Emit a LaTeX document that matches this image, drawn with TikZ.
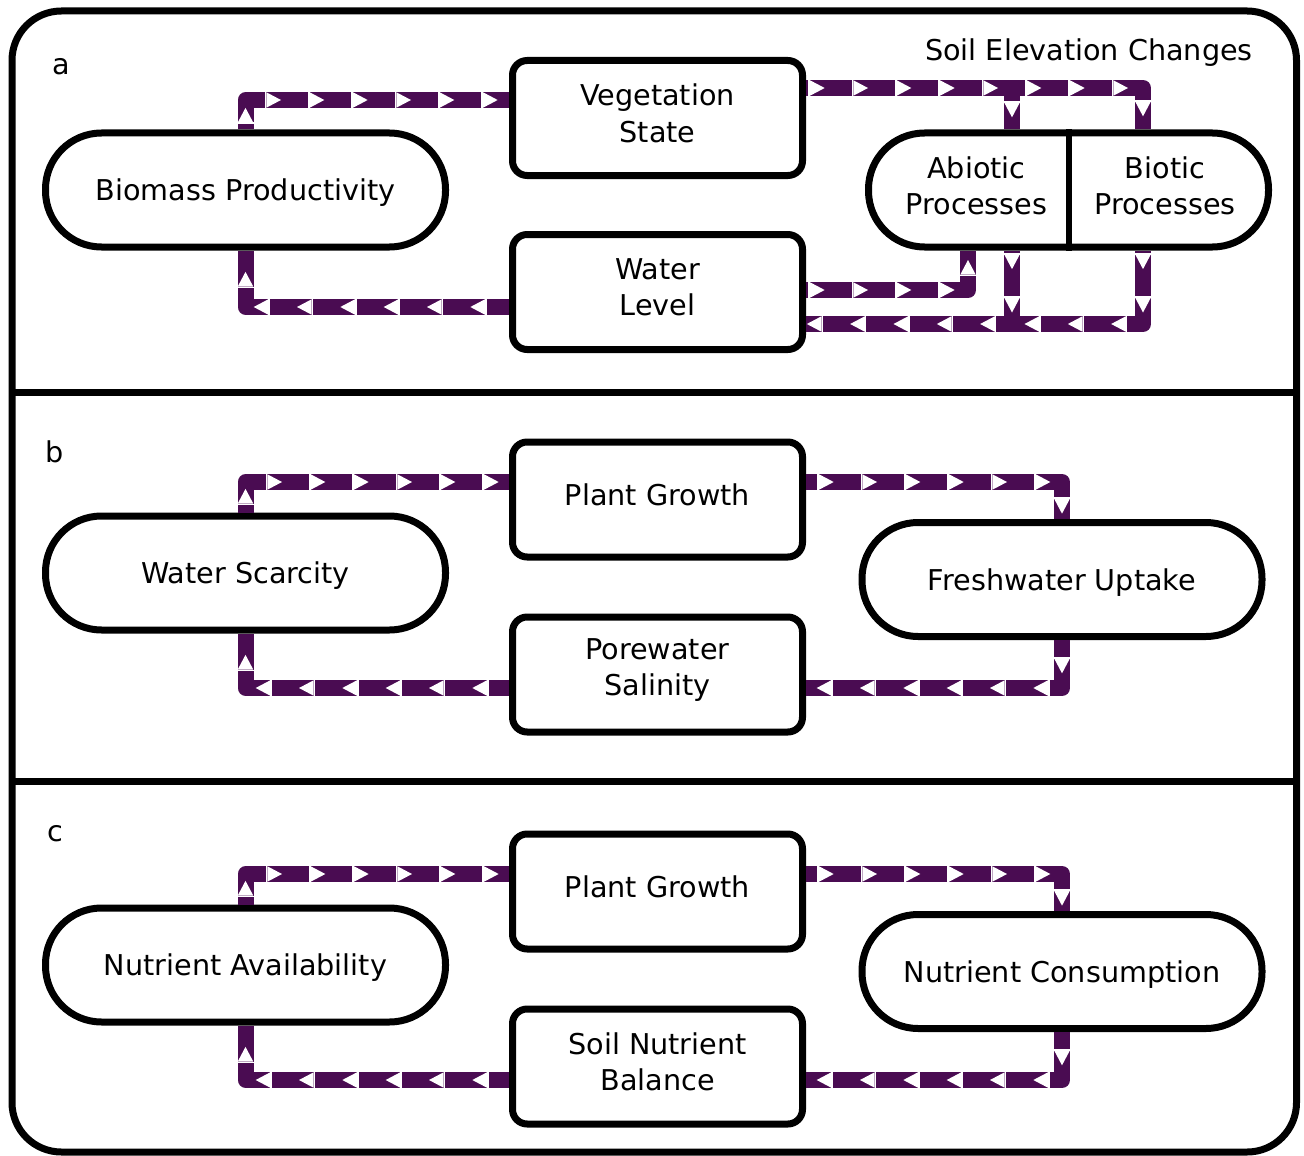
\documentclass[tikz,border=0pt]{standalone}
\usepackage{fontspec}
\setmainfont{DejaVu Sans}
\usetikzlibrary{decorations.markings,calc}
\definecolor{flowc}{HTML}{4A0C52}
\tikzset{
  box/.style={draw, line width=5.25pt, rounded corners=11pt, minimum width=217.5pt, minimum height=86.25pt, inner sep=0pt},
  pill/.style={draw, line width=5.25pt, rounded corners=42pt, minimum width=300pt, minimum height=85.5pt, inner sep=0pt},
  lbl/.style={inner sep=0pt, align=center},
  flow/.style={draw=flowc, line width=12pt, line join=round, postaction={decorate},
    decoration={markings, mark=between positions #1 and -1pt step 32.5pt with {
      \fill[white] (0pt,-5.8pt) -- (11pt,0pt) -- (0pt,5.8pt) -- cycle;
      \fill[white] (-1.2pt,-6.2pt) rectangle (0pt,6.2pt);}}},
  flow/.default=3pt
}
\begin{document}
\begin{tikzpicture}[x=0.75pt, y=-0.75pt, font=\fontsize{21.5}{27.3}\selectfont]
\useasboundingbox (0,0) rectangle (1304,1156);
% frame
\draw[line width=5.25pt, rounded corners=37pt] (12,11) rectangle (1296.5,1152);
\draw[line width=5.25pt] (12,392) -- (1296.5,392);
\draw[line width=5.25pt] (12,781) -- (1296.5,781);

% ---------- panel a ----------
\node[lbl] (la) at (61,67) {a};
\node[lbl] (sec) at (1089,53) {Soil Elevation Changes};
\node[pill] (bm) at (245.5,190) {};
\node[lbl] (bmt) at ($(bm)+(0,3)$) {Biomass Productivity};
\node[box] (veg) at (657.5,118) {};
\node[lbl] (vegt) at ($(veg)+(0,-4.5)$) {Vegetation\\State};
\node[box] (wl) at (657.5,292) {};
\node[lbl] (wlt) at ($(wl)+(0,-4.5)$) {Water\\Level};
\node[pill] (proc) at (1068.5,190) {};
\draw[line width=5pt] (proc.north) ++(0.5,0) -- ($(proc.south)+(0.5,0)$);
\node[lbl] (abio) at ($(proc.center)+(-92,-4)$) {Abiotic\\Processes};
\node[lbl] (bio) at ($(proc.center)+(96.5,-4)$) {Biotic\\Processes};

\draw[flow=5.25pt] (bm.north) |- ($(veg.west)+(0,-18)$);
\draw[flow=3pt] ($(veg.east)+(0,-30)$) -| ($(proc.north)+(74.5,0)$);
\draw[flow=3pt] ($(veg.east)+(0,-30)$) -| ($(proc.north)+(-56.5,0)$);
\draw[flow=3pt] ($(wl.east)+(0,-2)$) -| ($(proc.south)+(-100.5,0)$);
\draw[flow=3pt] ($(proc.south)+(74.5,0)$) |- ($(wl.east)+(0,32)$);
\draw[flow=3pt] ($(proc.south)+(-56.5,0)$) |- ($(wl.east)+(0,32)$);
\draw[flow=18pt] ($(wl.west)+(0,15)$) -| (bm.south);

% ---------- panel b ----------
\node[lbl] (lb) at (55,452) {b};
\node[pill] (ws) at (245.5,573) {};
\node[lbl] (wst) at ($(ws)+(0,3)$) {Water Scarcity};
\node[box] (pg) at (657.5,499.5) {};
\node[lbl] (pgt) at ($(pg)+(0,-4.5)$) {Plant Growth};
\node[box] (ps) at (657.5,674.5) {};
\node[lbl] (pst) at ($(ps)+(0,-4.5)$) {Porewater\\Salinity};
\node[pill] (fu) at (1062,579.5) {};
\node[lbl] (fut) at ($(fu)+(0,3)$) {Freshwater Uptake};

\draw[flow=6.75pt] (ws.north) |- ($(pg.west)+(0,-17.5)$);
\draw[flow=9.75pt] ($(pg.east)+(0,-17.5)$) -| (fu.north);
\draw[flow=14pt] (fu.south) |- ($(ps.east)+(0,13.5)$);
\draw[flow=16.5pt] ($(ps.west)+(0,13.5)$) -| (ws.south);

% ---------- panel c ----------
\node[lbl] (lc) at (55,834) {c};
\node[pill] (na) at (245.5,965) {};
\node[lbl] (nat) at ($(na)+(0,3)$) {Nutrient Availability};
\node[box] (pg2) at (657.5,891.5) {};
\node[lbl] (pg2t) at ($(pg2)+(0,-4.5)$) {Plant Growth};
\node[box] (snb) at (657.5,1066.5) {};
\node[lbl] (snbt) at ($(snb)+(0,-4.5)$) {Soil Nutrient\\Balance};
\node[pill] (nc) at (1062,971.5) {};
\node[lbl] (nct) at ($(nc)+(0,3)$) {Nutrient Consumption};

\draw[flow=6.75pt] (na.north) |- ($(pg2.west)+(0,-17.5)$);
\draw[flow=9.75pt] ($(pg2.east)+(0,-17.5)$) -| (nc.north);
\draw[flow=14pt] (nc.south) |- ($(snb.east)+(0,13.5)$);
\draw[flow=16.5pt] ($(snb.west)+(0,13.5)$) -| (na.south);
\end{tikzpicture}
\end{document}
